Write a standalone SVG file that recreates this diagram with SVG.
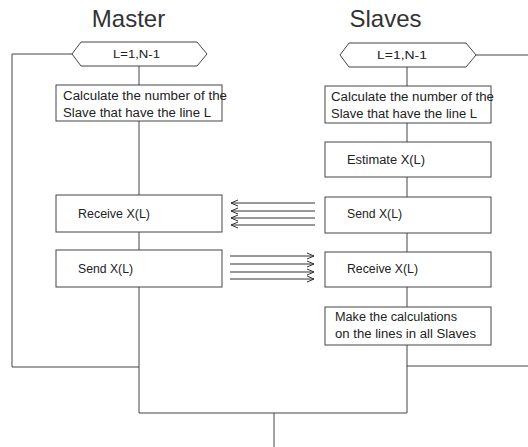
<svg xmlns="http://www.w3.org/2000/svg" width="528" height="447" viewBox="0 0 528 447">
<defs>
<marker id="ah" viewBox="-8 -4 9 8" refX="0" refY="0" markerWidth="9" markerHeight="8" markerUnits="userSpaceOnUse" orient="auto">
<path d="M-7,-3 L0,0 L-7,3" fill="none" stroke="#333" stroke-width="1"/>
</marker>
<style>
rect,polygon{fill:#fff;stroke:#444;stroke-width:1}
.ln{fill:none;stroke:#444;stroke-width:1}
.ar{fill:none;stroke:#333;stroke-width:1}
text{font-family:"Liberation Sans",Arial,sans-serif;fill:#222}
.t{font-size:12.5px}
.h{font-size:10px}
.ti{font-size:24px;fill:#333}
</style>
</defs>
<rect x="0" y="0" width="528" height="447" style="fill:#fff;stroke:none"/>
<text class="ti" x="128.5" y="27" text-anchor="middle">Master</text>
<text class="ti" x="385.5" y="27" text-anchor="middle">Slaves</text>
<g id="connectors">
<polyline class="ln" points="72,54 12,54 12,367 139,367"/>
<line class="ln" x1="139" y1="66" x2="139" y2="85"/>
<line class="ln" x1="139" y1="121" x2="139" y2="195"/>
<line class="ln" x1="139" y1="232" x2="139" y2="250"/>
<polyline class="ln" points="139,287 139,413 407,413"/>
<line class="ln" x1="274" y1="413" x2="274" y2="447"/>
<line class="ln" x1="476" y1="55" x2="528" y2="55"/>
<line class="ln" x1="407" y1="67" x2="407" y2="86"/>
<line class="ln" x1="407" y1="123" x2="407" y2="142"/>
<line class="ln" x1="407" y1="177" x2="407" y2="197"/>
<line class="ln" x1="407" y1="233" x2="407" y2="252"/>
<line class="ln" x1="407" y1="287" x2="407" y2="307"/>
<polyline class="ln" points="407,345 407,413"/>
<line class="ln" x1="407" y1="366" x2="528" y2="366"/>
<line class="ar" x1="315" y1="203" x2="231" y2="203" marker-end="url(#ah)"/>
<line class="ar" x1="315" y1="211" x2="231" y2="211" marker-end="url(#ah)"/>
<line class="ar" x1="315" y1="218" x2="231" y2="218" marker-end="url(#ah)"/>
<line class="ar" x1="315" y1="225" x2="231" y2="225" marker-end="url(#ah)"/>
<line class="ar" x1="230" y1="256" x2="314" y2="256" marker-end="url(#ah)"/>
<line class="ar" x1="230" y1="264" x2="314" y2="264" marker-end="url(#ah)"/>
<line class="ar" x1="230" y1="272" x2="314" y2="272" marker-end="url(#ah)"/>
<line class="ar" x1="230" y1="279" x2="314" y2="279" marker-end="url(#ah)"/>
</g>
<g id="m-loop">
<polygon points="72,54 81,42 197,42 207,54 197,66 81,66"/>
<text class="h" x="113" y="58" textLength="47" lengthAdjust="spacingAndGlyphs">L=1,N-1</text>
</g>
<g id="m-calc">
<rect x="56" y="85" width="166" height="36"/>
<text class="t" x="63" y="100" textLength="164" lengthAdjust="spacingAndGlyphs">Calculate the number of the</text>
<text class="t" x="63" y="117" textLength="148" lengthAdjust="spacingAndGlyphs">Slave that have the line L</text>
</g>
<g id="m-receive">
<rect x="56" y="195" width="166" height="37"/>
<text class="t" x="78" y="218" textLength="72" lengthAdjust="spacingAndGlyphs">Receive X(L)</text>
</g>
<g id="m-send">
<rect x="56" y="250" width="166" height="37"/>
<text class="t" x="78" y="273" textLength="55" lengthAdjust="spacingAndGlyphs">Send X(L)</text>
</g>
<g id="s-loop">
<polygon points="340,55 349,43 466,43 476,55 466,67 349,67"/>
<text class="h" x="377" y="59" textLength="50" lengthAdjust="spacingAndGlyphs">L=1,N-1</text>
</g>
<g id="s-calc">
<rect x="325" y="86" width="166" height="37"/>
<text class="t" x="331" y="101" textLength="163" lengthAdjust="spacingAndGlyphs">Calculate the number of the</text>
<text class="t" x="331" y="118" textLength="146" lengthAdjust="spacingAndGlyphs">Slave that have the line L</text>
</g>
<g id="s-estimate">
<rect x="325" y="142" width="166" height="35"/>
<text class="t" x="347" y="164" textLength="78" lengthAdjust="spacingAndGlyphs">Estimate X(L)</text>
</g>
<g id="s-send">
<rect x="325" y="197" width="166" height="36"/>
<text class="t" x="347" y="218" textLength="55" lengthAdjust="spacingAndGlyphs">Send X(L)</text>
</g>
<g id="s-receive">
<rect x="325" y="252" width="166" height="35"/>
<text class="t" x="347" y="273" textLength="71" lengthAdjust="spacingAndGlyphs">Receive X(L)</text>
</g>
<g id="s-calcs">
<rect x="325" y="307" width="166" height="38"/>
<text class="t" x="335" y="321" textLength="122" lengthAdjust="spacingAndGlyphs">Make the calculations</text>
<text class="t" x="335" y="338" textLength="141" lengthAdjust="spacingAndGlyphs">on the lines in all Slaves</text>
</g>
</svg>
